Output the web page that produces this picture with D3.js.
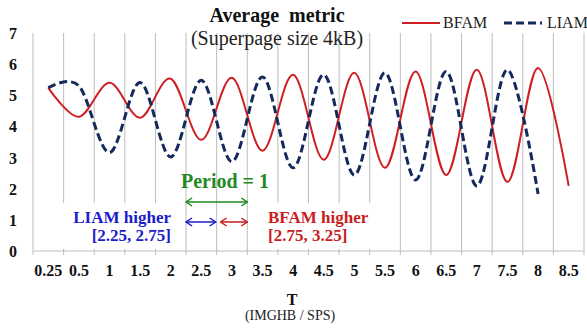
<!DOCTYPE html>
<html>
<head>
<meta charset="utf-8">
<script src="https://cdn.jsdelivr.net/npm/d3@7"></script>
<style>
  body { margin: 0; background: #fff; }
  svg { display: block; font-family: "Liberation Serif", "Times New Roman", serif; }
  .grid line { stroke: #bdbdbd; stroke-width: 1; }
  .tick-label { font-weight: bold; font-size: 16px; fill: #111; }
</style>
</head>
<body>
<svg id="chart" width="587" height="330"></svg>
<script>
// categories on the x axis (T), one value per category
const categories = ['0.25', '0.5', '1', '1.5', '2', '2.5', '3', '3.5', '4',
  '4.5', '5', '5.5', '6', '6.5', '7', '7.5', '8', '8.5'];
const bfam = [5.24, 4.31, 5.40, 4.28, 5.53, 3.57, 5.56, 3.22, 5.66,
  2.93, 5.72, 2.67, 5.76, 2.44, 5.82, 2.22, 5.88, 2.09];
const liam = [5.24, 5.30, 3.16, 5.41, 3.02, 5.48, 2.87, 5.59, 2.67,
  5.66, 2.44, 5.72, 2.28, 5.76, 2.09, 5.82, 1.83, null];
const yTicks = [0, 1, 2, 3, 4, 5, 6, 7];

// annotation spans, in T
const periodSpan = [2.25, 3.25];
const liamSpan = [2.25, 2.75];
const bfamSpan = [2.75, 3.25];

const RED = '#d01f24';
const NAVY = '#14295c';
const BLUE = '#1c1ccc';
const GREEN = '#1f8a24';

const svg = d3.select('#chart');
const plot = { left: 33, right: 584, top: 33, bottom: 251 };

const x = d3.scaleBand()
  .domain(categories)
  .range([plot.left, plot.right])
  .paddingInner(0)
  .paddingOuter(0);
const cx = c => x(c) + x.bandwidth() / 2;
// T is not linear along the category axis: 0.25 -> 0.5 takes one slot, then 0.5 per slot
const t = d3.scaleLinear()
  .domain([0.25, 0.5, 8.5])
  .range([cx('0.25'), cx('0.5'), cx('8.5')]);
const y = d3.scaleLinear()
  .domain([0, 7])
  .range([plot.bottom, plot.top]);

svg.append('rect')
  .attr('width', 587)
  .attr('height', 330)
  .attr('fill', '#fff');

// vertical gridlines at category boundaries
const bounds = categories.map(c => x(c)).concat([x(categories[categories.length - 1]) + x.bandwidth()]);
svg.append('g')
  .attr('class', 'grid')
  .selectAll('line')
  .data(bounds)
  .enter()
  .append('line')
  .attr('x1', d => d)
  .attr('x2', d => d)
  .attr('y1', plot.top)
  .attr('y2', plot.bottom + 4)
;
svg.append('line')
  .attr('x1', plot.left)
  .attr('x2', plot.right)
  .attr('y1', plot.bottom)
  .attr('y2', plot.bottom)
  .attr('stroke', '#bdbdbd')
;

// y labels
svg.append('g')
  .selectAll('text')
  .data(yTicks)
  .enter()
  .append('text')
  .attr('class', 'tick-label')
  .attr('x', 13)
  .attr('y', d => y(d) + 6)
  .style('text-anchor', 'middle')
  .text(d => d)
;

// x labels
svg.append('g')
  .selectAll('text')
  .data(categories)
  .enter()
  .append('text')
  .attr('class', 'tick-label')
  .attr('x', d => cx(d))
  .attr('y', 276)
  .style('text-anchor', 'middle')
  .text(d => d)
;

// series
const line = d3.line()
  .defined(d => d.v != null)
  .x(d => cx(d.c))
  .y(d => y(d.v))
  .curve(d3.curveCardinal.tension(0));

const series = [
  { key: 'BFAM', values: bfam, color: RED, width: 2, dash: null },
  { key: 'LIAM', values: liam, color: NAVY, width: 3, dash: '8,4' },
];
svg.append('g')
  .selectAll('path')
  .data(series)
  .enter()
  .append('path')
  .attr('fill', 'none')
  .attr('stroke', d => d.color)
  .attr('stroke-width', d => d.width)
  .attr('stroke-dasharray', d => d.dash)
  .attr('d', d => line(categories.map((c, i) => ({ c, v: d.values[i] })).filter(p => p.v != null)))
;

// text boxes (white fill hides the gridlines behind them)
svg.append('rect')
  .attr('x', 60).attr('y', 203).attr('width', 114).attr('height', 46)
  .attr('fill', '#fff');
svg.append('rect')
  .attr('x', 266).attr('y', 203).attr('width', 113).attr('height', 46)
  .attr('fill', '#fff');

const liamText = svg.append('text')
  .attr('fill', BLUE)
  .style('font-weight', 'bold')
  .style('font-size', '17px')
  .style('text-anchor', 'end');
liamText.append('tspan').attr('x', 171).attr('y', 223).text('LIAM higher');
liamText.append('tspan').attr('x', 171).attr('y', 241).text(`[${liamSpan[0]}, ${liamSpan[1]}]`);

const bfamText = svg.append('text')
  .attr('fill', '#c81e1e')
  .style('font-weight', 'bold')
  .style('font-size', '17px')
  .style('text-anchor', 'start');
bfamText.append('tspan').attr('x', 268).attr('y', 223).text('BFAM higher');
bfamText.append('tspan').attr('x', 268).attr('y', 241).text(`[${bfamSpan[0]}, ${bfamSpan[1]}]`);

svg.append('text')
  .attr('x', 225)
  .attr('y', 188)
  .attr('fill', GREEN)
  .style('font-weight', 'bold')
  .style('font-size', '20px')
  .style('text-anchor', 'middle')
  .text('Period = 1');

// double arrows
const defs = svg.append('defs');
[['green', GREEN], ['blue', BLUE], ['red', '#c81e1e']].forEach(([id, col]) => {
  defs.append('marker')
    .attr('id', `head-${id}`)
    .attr('viewBox', '-1 -5 8 10')
    .attr('refX', 6)
    .attr('refY', 0)
    .attr('markerUnits', 'userSpaceOnUse')
    .attr('markerWidth', 8)
    .attr('markerHeight', 10)
    .attr('orient', 'auto-start-reverse')
    .append('path')
    .attr('d', 'M0,-4L6,0L0,4')
    .attr('fill', 'none')
    .attr('stroke', col)
    .attr('stroke-width', 1.5);
});
const arrows = [
  { span: periodSpan, y: 202, id: 'green', color: GREEN, inset: 0 },
  { span: liamSpan, y: 222, id: 'blue', color: BLUE, inset: 1 },
  { span: bfamSpan, y: 222, id: 'red', color: '#c81e1e', inset: 4 },
];
svg.append('g')
  .selectAll('line')
  .data(arrows)
  .enter()
  .append('line')
  .attr('x1', d => t(d.span[0]) + (d.id === 'red' ? d.inset : 0))
  .attr('x2', d => t(d.span[1]) - (d.id === 'blue' ? d.inset : 0))
  .attr('y1', d => d.y)
  .attr('y2', d => d.y)
  .attr('stroke', d => d.color)
  .attr('stroke-width', 1.5)
  .attr('marker-start', d => `url(#head-${d.id})`)
  .attr('marker-end', d => `url(#head-${d.id})`)
;

// title
svg.append('text')
  .attr('x', 277)
  .attr('y', 22)
  .style('font-weight', 'bold')
  .style('font-size', '20px')
  .style('text-anchor', 'middle')
  .style('white-space', 'pre')
  .attr('fill', '#111')
  .text('Average  metric');
svg.append('text')
  .attr('x', 277)
  .attr('y', 45)
  .style('font-size', '20px')
  .style('text-anchor', 'middle')
  .attr('fill', '#222')
  .text('(Superpage size 4kB)');

// legend
const legend = svg.append('g').attr('class', 'legend');
legend.selectAll('line')
  .data(series)
  .enter()
  .append('line')
  .attr('x1', (d, i) => 402 + i * 102)
  .attr('x2', (d, i) => 440 + i * 102)
  .attr('y1', 23)
  .attr('y2', 23)
  .attr('stroke', d => d.color)
  .attr('stroke-width', d => d.width)
  .attr('stroke-dasharray', d => d.dash)
;
legend.selectAll('text')
  .data(series)
  .enter()
  .append('text')
  .attr('x', (d, i) => 443 + i * 104)
  .attr('y', 28)
  .style('font-size', '16px')
  .attr('fill', '#222')
  .text(d => d.key)
;

// axis title
svg.append('text')
  .attr('x', 292)
  .attr('y', 305)
  .style('font-weight', 'bold')
  .style('font-size', '16px')
  .style('text-anchor', 'middle')
  .attr('fill', '#111')
  .text('T');
svg.append('text')
  .attr('x', 290)
  .attr('y', 320)
  .style('font-size', '14px')
  .style('text-anchor', 'middle')
  .attr('fill', '#222')
  .text('(IMGHB / SPS)');
</script>
</body>
</html>
